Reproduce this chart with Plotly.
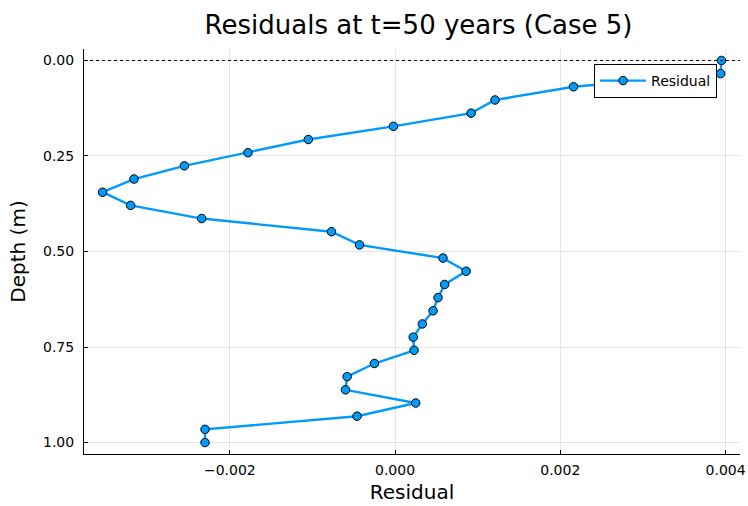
import plotly.graph_objects as go

# Data
depth = [i / 29 for i in range(30)]
residual = [0.00395, 0.00394, 0.00216, 0.00121, 0.00092, -0.00002, -0.00105, -0.00178,
            -0.00255, -0.00316, -0.00354, -0.00320, -0.00234, -0.00077, -0.00043, 0.00058,
            0.00086, 0.00060, 0.00052, 0.00046, 0.00033, 0.00022, 0.00023, -0.00025,
            -0.00058, -0.00060, 0.00025, -0.00046, -0.00230, -0.00230]
xticks = [-0.002, 0.0, 0.002, 0.004]
yticks = [0.0, 0.25, 0.5, 0.75, 1.0]

BLUE = "#009AFA"
FONT = "DejaVu Sans"

fig = go.Figure()
fig.add_trace(go.Scatter(
    x=residual, y=depth, mode="lines+markers", name="Residual",
    line=dict(color=BLUE, width=2.4),
    marker=dict(size=8.5, color=BLUE, line=dict(color="black", width=1)),
))

xmin, xmax = min(residual), max(residual)
pad = 0.03 * (xmax - xmin)

fig.add_shape(type="line", xref="paper", x0=0, x1=1, yref="y", y0=0, y1=0,
              line=dict(color="black", width=1, dash="dot"))

axis_common = dict(
    showgrid=True, gridcolor="rgba(0,0,0,0.1)", gridwidth=1,
    showline=True, linecolor="black", linewidth=1,
    ticks="inside", ticklen=4, tickcolor="black",
    tickfont=dict(family=FONT, size=14, color="black"),
    zeroline=False, mirror=False, automargin=False,
)

fig.update_layout(
    width=748, height=506,
    margin=dict(l=84, r=8, t=49, b=52),
    paper_bgcolor="white", plot_bgcolor="white",
    font=dict(family=FONT, color="black"),
    title=dict(text="Residuals at t=50 years (Case 5)", x=0.51, xref="paper",
               xanchor="center", y=0.95, yanchor="middle", yref="container",
               font=dict(family=FONT, size=26, color="black")),
    xaxis=dict(range=[xmin - pad, xmax + pad], tickvals=xticks, tickformat=".3f",
               ticklabelstandoff=3,
               title=dict(text="Residual", font=dict(family=FONT, size=20), standoff=8),
               **axis_common),
    yaxis=dict(range=[1.03, -0.03], tickvals=yticks, tickformat=".2f",
               ticklabelstandoff=6,
               title=dict(text="Depth (m)", font=dict(family=FONT, size=20), standoff=12),
               **axis_common),
    showlegend=True,
    legend=dict(x=0.965, y=0.963, xanchor="right", yanchor="top",
                bordercolor="black", borderwidth=1, bgcolor="white",
                font=dict(family=FONT, size=14, color="black"),
                itemwidth=46),
)

fig.write_html("out.html")
